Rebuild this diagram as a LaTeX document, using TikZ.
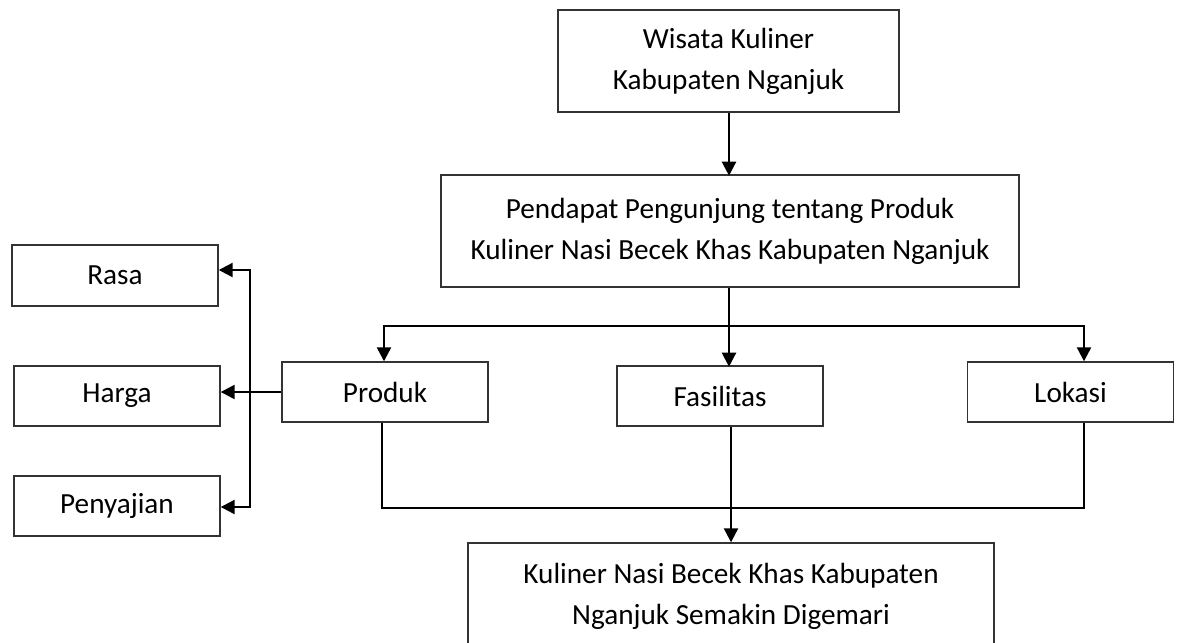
\documentclass[tikz,border=0pt]{standalone}
\usepackage{fontspec}
\setmainfont{Carlito}
\usetikzlibrary{arrows.meta, positioning, calc}

\begin{document}
\begin{tikzpicture}[x=0.5pt, y=-0.5pt,
  box/.style={draw=black!80, line width=0.7pt, inner sep=0pt, align=center,
    font=\fontsize{14.6}{20.5}\selectfont},
  small/.style={box, minimum width=103pt, minimum height=30pt},
  link/.style={line width=1.15pt},
  arr/.style={link, -{Triangle[length=7pt, width=7pt]}},
  arrs/.style={link, {Triangle[length=7pt, width=7pt]}-{Triangle[length=7pt, width=7pt]}}]
\useasboundingbox (0,0) rectangle (1181,642);

% main column
\node[box, minimum width=170.5pt, minimum height=51pt] (wisata) at (728.5,61) {Wisata Kuliner\\Kabupaten Nganjuk};
\node[box, minimum width=289pt, minimum height=56pt] (pendapat) at (730,231) {Pendapat Pengunjung tentang Produk\\Kuliner Nasi Becek Khas Kabupaten Nganjuk};
\node[box, minimum width=263pt, minimum height=53pt] (hasil) at (731,596) {Kuliner Nasi Becek Khas Kabupaten\\Nganjuk Semakin Digemari};

% middle row
\node[small] (produk) at (385,392) {Produk};
\node[small] (fasilitas) at (720,396) {Fasilitas};
\node[small] (lokasi) at (1070.5,392) {Lokasi};

% left column
\node[small, minimum height=30.5pt] (rasa) at (115,275.5) {Rasa};
\node[small] (harga) at (117,396) {Harga};
\node[small] (penyajian) at (117,506) {Penyajian};

\coordinate (busL) at (384,326);
\coordinate (busR) at (1084,326);
\coordinate (spT) at (250,270);
\coordinate (spB) at (250,507);
\coordinate (jnL) at (382,508);
\coordinate (jnR) at (1084,508);

\draw[arr] (wisata.south -| pendapat.north) ++(-1,0) -- ++(0,63);
\draw[arr] (pendapat.south) ++(-1,0) -- ++(0,79);
\draw[arrs] (busL |- produk.north) -- (busL) -- (busR) -- (busR |- lokasi.north);
\draw[arrs] (spT -| rasa.east) -- (spT) -- (spB) -- (spB -| penyajian.east);
\draw[arr] (produk.west) -- (produk.west -| harga.east);
\draw[link] (jnL |- produk.south) -- (jnL) -- (jnR) -- (jnR |- lokasi.south);
\draw[arr] (hasil.north |- fasilitas.south) -- (hasil.north);
\end{tikzpicture}
\end{document}
